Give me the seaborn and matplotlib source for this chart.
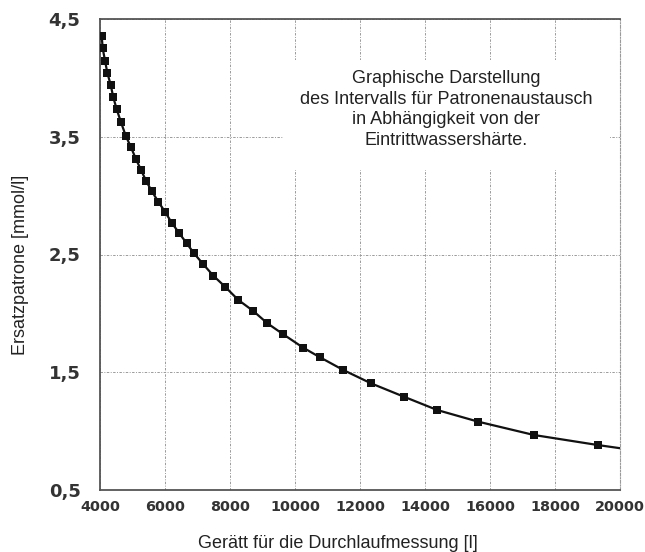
import matplotlib
matplotlib.use("Agg")
import matplotlib.pyplot as plt
import seaborn as sns
import pandas as pd
from matplotlib.patches import Rectangle

# marker points
liters = [4052, 4083, 4154, 4225, 4329, 4409, 4514, 4646, 4791, 4954,
          5108, 5262, 5415, 5591, 5794, 6000, 6206, 6440, 6668, 6892,
          7178, 7486, 7846, 8255, 8717, 9148, 9640, 10255, 10769, 11486,
          12338, 13354, 14378, 15640, 17354, 19314]
hardness = [4.356, 4.251, 4.146, 4.044, 3.940, 3.835, 3.733, 3.623, 3.509, 3.410,
            3.309, 3.218, 3.127, 3.039, 2.948, 2.863, 2.770, 2.680, 2.595, 2.510,
            2.417, 2.320, 2.227, 2.114, 2.020, 1.916, 1.822, 1.708, 1.627, 1.519,
            1.406, 1.292, 1.179, 1.080, 0.967, 0.882]
# the drawn curve runs on to the right edge
curve_end_x = [20000]
curve_end_y = [0.855]

x_ticks = [4000, 6000, 8000, 10000, 12000, 14000, 16000, 18000, 20000]
y_ticks = [0.5, 1.5, 2.5, 3.5, 4.5]
y_tick_labels = ["0,5", "1,5", "2,5", "3,5", "4,5"]

note = ("Graphische Darstellung\n"
        "des Intervalls für Patronenaustausch\n"
        "in Abhängigkeit von der\n"
        "Eintrittwassershärte.")

pts = pd.DataFrame({"x": liters, "y": hardness})
curve = pd.DataFrame({"x": liters + curve_end_x, "y": hardness + curve_end_y})

sns.set_style("white")
plt.rcParams["font.family"] = ["Liberation Sans", "DejaVu Sans"]

fig = plt.figure(figsize=(6.45, 5.52), dpi=100)
ax = fig.add_axes([100 / 645, 1 - 490 / 552, 520 / 645, 471 / 552])

sns.lineplot(data=curve, x="x", y="y", ax=ax, color="#111111", linewidth=1.6,
             zorder=3)
sns.scatterplot(data=pts, x="x", y="y", ax=ax, marker="s", color="#111111",
                s=36, edgecolor="#111111", linewidth=0, zorder=4)

ax.set_xlim(4000, 20000)
ax.set_ylim(0.5, 4.5)
ax.set_xticks(x_ticks)
ax.set_xticklabels([str(t) for t in x_ticks], fontfamily="DejaVu Sans",
                   fontweight="bold", fontsize=10.4, color="#333333")
ax.set_yticks(y_ticks)
ax.set_yticklabels(y_tick_labels, fontfamily="DejaVu Sans",
                   fontweight="bold", fontsize=13, color="#333333")
ax.tick_params(axis="x", length=0, pad=7)
ax.tick_params(axis="y", length=0, pad=14)
ax.set_xlabel("")
ax.set_ylabel("")

grid_style = (0, (2.5, 1.5, 1, 1.5))
ax.grid(True, color="#9a9a9a", linewidth=0.7, linestyle=grid_style)
ax.set_axisbelow(True)

for side in ["left", "bottom", "top"]:
    ax.spines[side].set_color("#555555")
    ax.spines[side].set_linewidth(1.3)
ax.spines["right"].set_color("#9a9a9a")
ax.spines["right"].set_linewidth(0.8)
ax.spines["right"].set_linestyle(grid_style)

# white panel behind the note, hiding the grid
ax.add_patch(Rectangle((0.352, 0.679), 0.629, 0.234, transform=ax.transAxes,
                       facecolor="white", edgecolor="none", zorder=2))
ax.text(0.666, 0.808, note, transform=ax.transAxes, ha="center", va="center",
        fontsize=13, color="#222222", linespacing=1.27, zorder=5)

fig.text(337.5 / 645, 1 - 543 / 552, "Gerätt für die Durchlaufmessung [l]",
         ha="center", va="center", fontsize=13, color="#222222")
fig.text(21 / 645, 1 - 265 / 552, "Ersatzpatrone [mmol/l]", rotation=90,
         ha="center", va="center", fontsize=13, color="#222222")

fig.savefig("out.png", dpi=100)
